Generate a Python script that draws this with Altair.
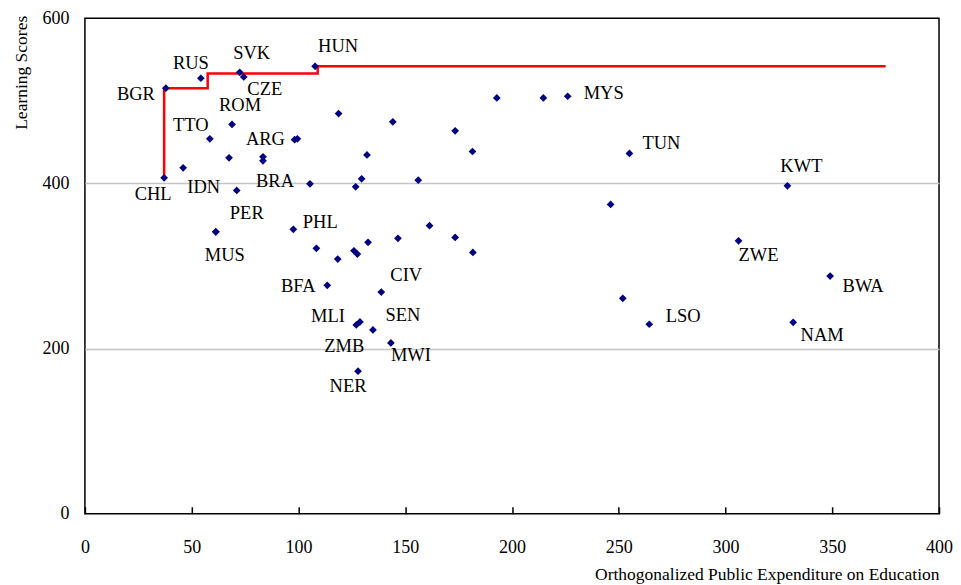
import altair as alt
import pandas as pd

# ---- data ----
codes = ["BGR", "RUS", "SVK", "CZE", "HUN", "CHL", "ROM", "TTO", "ARG", "",
         "", "", "", "", "", "", "", "", "BRA", "IDN",
         "MUS", "PER", "PHL", "", "", "", "", "", "", "",
         "", "", "", "BFA", "CIV", "ZMB", "MLI", "SEN", "MWI", "NER",
         "", "", "", "MYS", "", "", "TUN", "", "", "LSO",
         "KWT", "ZWE", "BWA", "NAM"]
expenditure = [37.9, 54.3, 72.5, 74.4, 107.8, 37.1, 68.9, 58.5, 99.5, 98.2,
               118.8, 67.5, 83.4, 83.4, 46.0, 132.1, 129.6, 126.8, 105.4, 71.1,
               61.3, 61.3, 97.6, 108.4, 118.4, 126.0, 127.6, 132.6, 146.6, 161.4,
               173.4, 181.7, 156.1, 113.5, 138.8, 127.1, 128.8, 134.9, 143.3, 127.9,
               144.2, 192.9, 214.7, 226.1, 173.4, 181.5, 255.0, 246.2, 251.9, 264.3,
               329.0, 306.1, 349.0, 331.7]
scores = [515.3, 527.4, 534.6, 529.0, 541.9, 406.8, 471.4, 454.0, 454.0, 453.0,
          484.7, 431.0, 432.2, 427.4, 418.9, 434.6, 405.6, 395.9, 399.5, 391.6,
          341.5, 341.5, 344.4, 321.4, 308.5, 318.5, 314.5, 328.7, 333.5, 348.8,
          334.6, 316.5, 404.0, 276.6, 268.5, 228.6, 232.3, 222.6, 206.9, 172.6,
          474.6, 503.6, 503.6, 505.6, 463.7, 438.7, 436.3, 374.6, 260.9, 229.5,
          397.1, 330.6, 287.9, 231.9]

# label placement relative to its point (pixels)
label_dx = {"BGR": -30, "RUS": -10, "SVK": 12, "CZE": 21, "HUN": 23, "CHL": -11,
            "ROM": 8, "TTO": -19, "ARG": -32, "BRA": -35, "IDN": -33, "MUS": 9,
            "PER": 31, "PHL": 27, "BFA": -29, "CIV": 25, "ZMB": -12, "MLI": -32,
            "SEN": 30, "MWI": 20, "NER": -10, "MYS": 36, "TUN": 32, "LSO": 34,
            "KWT": 14, "ZWE": 20, "BWA": 33, "NAM": 29}
label_dy = {"BGR": 6, "RUS": -15, "SVK": -19, "CZE": 12, "HUN": -20, "CHL": 16,
            "ROM": -20, "TTO": -14, "ARG": 0, "BRA": -3, "IDN": -3, "MUS": 23,
            "PER": -19, "PHL": -7, "BFA": 1, "CIV": -17, "ZMB": 21, "MLI": -6,
            "SEN": -15, "MWI": 12, "NER": 15, "MYS": -3, "TUN": -10, "LSO": -8,
            "KWT": -20, "ZWE": 14, "BWA": 10, "NAM": 13}

# efficiency frontier (step line)
frontier_x = [37.1, 37.1, 57.5, 57.5, 109.0, 109.0, 375.0]
frontier_y = [406.8, 515.3, 515.3, 533.1, 533.1, 542.0, 542.0]

x_ticks = [0, 50, 100, 150, 200, 250, 300, 350, 400]
y_ticks = [0, 200, 400, 600]

FONT = "Liberation Serif"
W, H = 855, 496
XMAX, YMAX = 400, 600

pts = pd.DataFrame({"code": codes, "x": expenditure, "y": scores})
lab = pts[pts["code"] != ""].copy()
lab["dx"] = lab["code"].map(label_dx)
lab["dy"] = lab["code"].map(label_dy)
front = pd.DataFrame({"x": frontier_x, "y": frontier_y, "o": range(len(frontier_x))})

xscale = alt.Scale(domain=[0, XMAX], nice=False, zero=False)
yscale = alt.Scale(domain=[0, YMAX], nice=False, zero=False)

xaxis = alt.Axis(values=x_ticks, title="Orthogonalized Public Expenditure on Education",
                 titleFont=FONT, titleFontSize=17.5, titleFontWeight="normal",
                 titleColor="black", titleAnchor="end", titleAlign="right",
                 titleBaseline="middle", titleX=W, titleY=68,
                 offset=-7, tickSize=7, ticks=True, tickColor="black", tickWidth=1.5,
                 domain=False, grid=False, labelFont=FONT, labelFontSize=18,
                 labelColor="black", labelPadding=34, labelBaseline="middle",
                 labelFlush=False, labelOverlap=False)
yaxis = alt.Axis(values=y_ticks, title="Learning Scores", titleFont=FONT,
                 titleFontSize=17.5, titleFontWeight="normal", titleColor="black",
                 titleAngle=270, titleAlign="right", titleBaseline="middle",
                 titleX=-63, titleY=-3, domain=False, ticks=False, tickSize=0,
                 grid=True, gridColor="#c4c4c4", gridWidth=1.5,
                 gridOpacity=alt.condition("datum.value == 0 || datum.value == 600",
                                           alt.value(0), alt.value(1)),
                 labelFont=FONT, labelFontSize=18, labelColor="black",
                 labelPadding=16, labelFlush=False, labelOverlap=False)

line = alt.Chart(front).mark_line(color="#ff0000", strokeWidth=2.5).encode(
    x=alt.X("x:Q", scale=xscale, axis=xaxis),
    y=alt.Y("y:Q", scale=yscale, axis=yaxis),
    order="o:Q",
)

points = alt.Chart(pts).mark_point(shape="diamond", filled=True, color="#000080",
                                   size=60, opacity=1).encode(
    x=alt.X("x:Q", scale=xscale),
    y=alt.Y("y:Q", scale=yscale),
)

labels = alt.Chart(lab).transform_calculate(
    lx=f"datum.x + datum.dx * {XMAX} / {W}",
    ly=f"datum.y - datum.dy * {YMAX} / {H}",
).mark_text(font=FONT, fontSize=18.5, color="black",
            align="center", baseline="middle").encode(
    x=alt.X("lx:Q", scale=xscale),
    y=alt.Y("ly:Q", scale=yscale),
    text="code:N",
)

chart = alt.layer(line, points, labels).properties(
    width=W, height=H,
    autosize=alt.AutoSizeParams(type="none"),
    padding={"left": 77, "top": 10, "right": 14, "bottom": 70},
    background="white",
).configure_view(stroke="black", strokeWidth=1.5)

chart.save("out.html", embed_options={"renderer": "svg", "actions": False})
